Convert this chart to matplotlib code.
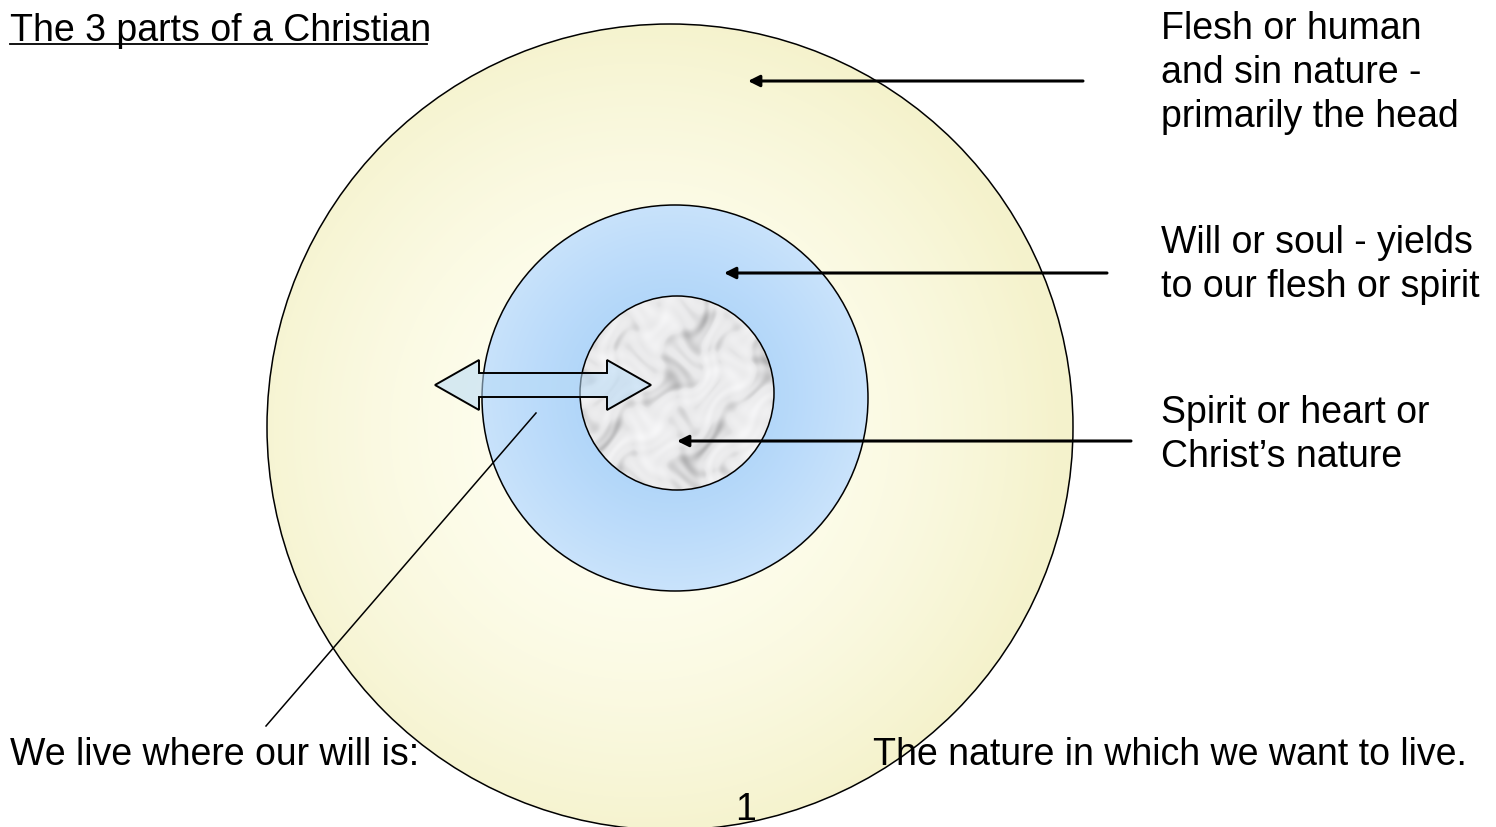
import numpy as np
import matplotlib
matplotlib.use('Agg')
from matplotlib import pyplot as plt
from matplotlib.patches import Circle, Polygon

plt.rcParams['font.family'] = ['Liberation Sans', 'DejaVu Sans']

# labels of the diagram
title = "The 3 parts of a Christian"
labels = ["Flesh or human\nand sin nature -\nprimarily the head",
          "Will or soul - yields\nto our flesh or spirit",
          "Spirit or heart or\nChrist\u2019s nature"]
bottom_left = "We live where our will is:"
bottom_right = "The nature in which we want to live."
page_no = "1"

W, H = 1496, 827
fig = plt.figure(figsize=(W / 100, H / 100), dpi=100)
ax = fig.add_axes([0, 0, 1, 1])
ax.set_xlim(0, W)
ax.set_ylim(H, 0)
ax.axis('off')

yy, xx = np.mgrid[0:H, 0:W]


def radial(cx, cy, r, c_in, c_out, p=1.0):
    d = (np.clip(np.hypot(xx - cx, yy - cy) / r, 0, 1) ** p)[..., None]
    return (1 - d) * np.array(c_in) + d * np.array(c_out)


def circle_img(img, cx, cy, r, z):
    c = Circle((cx, cy), r, facecolor='none', edgecolor='black', lw=1.1, zorder=z + 0.5)
    ax.add_patch(c)
    im = ax.imshow(img, extent=(0, W, H, 0), zorder=z, interpolation='bilinear')
    im.set_clip_path(c)


# outer circle (flesh) - pale yellow, lighter inside
outer = radial(640, 430, 420, (1.0, 1.0, 0.95), (0.96, 0.95, 0.8), p=1.8)
circle_img(outer, 670, 427, 403, 1)

# middle circle (soul) - blue, darker near the centre
mid = radial(672, 395, 195, (0.64, 0.81, 0.975), (0.79, 0.89, 0.985), p=1.3)
circle_img(mid, 675, 398, 193, 2)

# inner circle (spirit) - cloudy marble
u = xx + 12 * np.sin(0.045 * yy) + 8 * np.sin(0.11 * yy + 1.0)
w = yy + 12 * np.cos(0.05 * xx) + 8 * np.sin(0.13 * xx + 2.0)
cloud = (np.sin(0.06 * u) * np.cos(0.05 * w)
         + 0.6 * np.sin(0.13 * u + 0.09 * w + 1.3)
         + 0.4 * np.cos(0.21 * w - 0.17 * u)
         + 0.3 * np.sin(0.33 * u + 0.27 * w))
v = 0.92 - 0.025 * cloud - 0.07 * np.clip(cloud - 0.2, 0, None) ** 1.3
inner = np.clip(np.dstack([v, v, v + 0.005]), 0, 1)
circle_img(inner, 677, 393, 97, 3)

# double block arrow
cy, sh, hh = 385, 12, 25
left, right, lb, rb = 435, 651, 479, 607
pts = [(left, cy), (lb, cy - hh), (lb, cy - sh), (rb, cy - sh), (rb, cy - hh),
       (right, cy), (rb, cy + hh), (rb, cy + sh), (lb, cy + sh), (lb, cy + hh)]
ax.add_patch(Polygon(pts, closed=True, facecolor=(0.72, 0.86, 0.97, 0.55),
                     edgecolor='black', lw=1.4, zorder=5))

# pointer line
ax.plot([266, 536], [726, 413], color='black', lw=1.1, zorder=6)

# label arrows
for (x0, x1, y) in [(1083, 748, 81), (1107, 724, 273), (1131, 677, 441)]:
    ax.annotate('', xy=(x1, y), xytext=(x0, y),
                arrowprops=dict(arrowstyle='-|>', lw=2.2, color='black',
                                mutation_scale=17, shrinkA=0, shrinkB=0),
                zorder=7)

fs = 27
ax.text(10, 31, title, fontsize=fs, va='center', ha='left', zorder=8)
ax.plot([10, 427], [44, 44], color='black', lw=1.3, zorder=8)

for lab, y in zip(labels, [127, 297, 467]):
    ax.text(1161, y, lab, fontsize=fs, va='baseline', ha='left', linespacing=1.28, zorder=8)

ax.text(10, 755, bottom_left, fontsize=fs, va='center', ha='left', zorder=8)
ax.text(873, 755, bottom_right, fontsize=fs, va='center', ha='left', zorder=8)
ax.text(746, 810, page_no, fontsize=fs, va='center', ha='center', zorder=8)

fig.savefig('out.png', dpi=100)
